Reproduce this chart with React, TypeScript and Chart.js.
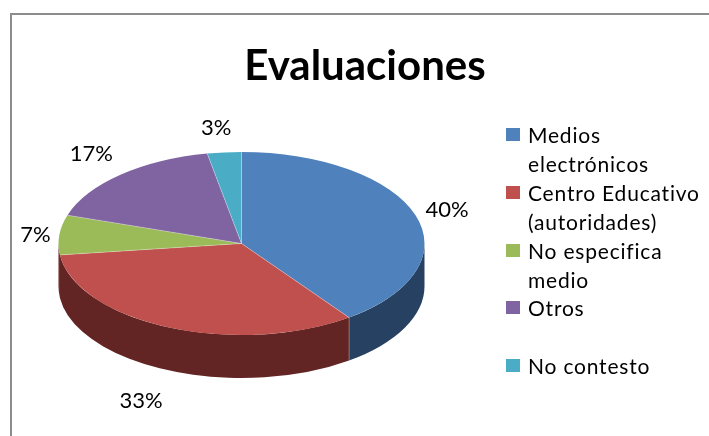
import React, { useEffect, useRef } from "react";
import { Chart, registerables } from "chart.js";

Chart.register(...registerables);

const titleText = "Evaluaciones";
const categories = ["Medios electrónicos", "Centro Educativo (autoridades)", "No especifica medio", "Otros", "No contesto"];
const legendLines = [["Medios", "electrónicos"], ["Centro Educativo", "(autoridades)"], ["No especifica", "medio"], ["Otros", ""], ["No contesto"]];
const values = [40, 33, 7, 17, 3];
const topColors = ["#4F81BD", "#C0504D", "#9BBB59", "#8064A2", "#4BACC6"];
const sideColors = ["#264162", "#632523", "#632523", "#403152", "#215968"];

const FONT = "Lato, Carlito, sans-serif";
const CX = 241.5, CY = 243.5, RX = 183, SQUASH = 0.5, DEPTH = 43;

const pie3d = {
  id: "pie3d",
  beforeDatasetsDraw(chart: any) {
    const ctx = chart.ctx;
    const arcs = chart.getDatasetMeta(0).data;
    const { x, y } = arcs[0].getProps(["x", "y"], true);
    arcs.forEach((arc: any, i: number) => {
      const p = arc.getProps(["startAngle", "endAngle", "outerRadius"], true);
      const a = Math.max(p.startAngle, 0);
      const b = Math.min(p.endAngle, Math.PI);
      if (a >= b) return;
      const ry = p.outerRadius * SQUASH;
      ctx.beginPath();
      ctx.ellipse(CX, CY, p.outerRadius, ry, 0, a, b);
      ctx.ellipse(CX, CY + DEPTH, p.outerRadius, ry, 0, b, a, true);
      ctx.closePath();
      ctx.fillStyle = sideColors[i];
      ctx.fill();
    });
    ctx.save();
    ctx.translate(CX, CY);
    ctx.scale(1, SQUASH);
    ctx.translate(-x, -y);
  },
  afterDatasetsDraw(chart: any) {
    const ctx = chart.ctx;
    ctx.restore();
    const arcs = chart.getDatasetMeta(0).data;
    // seams between slices
    ctx.save();
    ctx.strokeStyle = "rgba(255,255,255,0.3)";
    ctx.lineWidth = 1;
    arcs.forEach((arc: any) => {
      const p = arc.getProps(["startAngle", "outerRadius"], true);
      const ex = CX + p.outerRadius * Math.cos(p.startAngle);
      const ey = CY + p.outerRadius * SQUASH * Math.sin(p.startAngle);
      ctx.beginPath();
      ctx.moveTo(CX, CY);
      ctx.lineTo(ex, ey);
      if (Math.sin(p.startAngle) > 0.5) ctx.lineTo(ex, ey + DEPTH);
      ctx.stroke();
    });
    ctx.restore();
    // percentage labels outside the slices
    const nudges = [[1, 2], [-15, 7], [8, 2], [-8, -2], [-5, 0]];
    ctx.save();
    ctx.font = `22px ${FONT}`;
    ctx.fillStyle = "#000";
    ctx.textAlign = "center";
    ctx.textBaseline = "middle";
    arcs.forEach((arc: any, i: number) => {
      const p = arc.getProps(["startAngle", "endAngle", "outerRadius"], true);
      const mid = (p.startAngle + p.endAngle) / 2;
      const lx = CX + (p.outerRadius + 32) * Math.cos(mid);
      const sinm = Math.sin(mid);
      const ly = CY + (p.outerRadius * SQUASH + 25) * sinm + (sinm > 0 ? DEPTH : 0);
      ctx.fillText(values[i] + "%", lx + nudges[i][0], ly + nudges[i][1]);
    });
    ctx.restore();
    // legend
    ctx.save();
    ctx.font = `21px ${FONT}`;
    ctx.textAlign = "left";
    ctx.textBaseline = "alphabetic";
    if ("letterSpacing" in ctx) (ctx as any).letterSpacing = "0.8px";
    let row = 0;
    const top = 143, step = 28.9;
    legendLines.forEach((lines, i) => {
      ctx.fillStyle = topColors[i];
      ctx.fillRect(506, Math.round(top + row * step - 15), 14, 13);
      ctx.fillStyle = "#000";
      lines.forEach((line) => {
        if (line) ctx.fillText(line, 528, top + row * step);
        row++;
      });
    });
    ctx.restore();
  },
};

export default function App() {
  const ref = useRef<HTMLCanvasElement>(null);
  useEffect(() => {
    const chart = new Chart(ref.current!, {
      type: "pie",
      data: {
        labels: categories,
        datasets: [{ data: values, backgroundColor: topColors, borderWidth: 0, radius: RX, clip: false } as any],
      },
      plugins: [pie3d],
      options: {
        animation: false,
        responsive: false,
        layout: { padding: { left: 21 } },
        plugins: {
          legend: { display: false },
          tooltip: { enabled: false },
          title: {
            display: true,
            text: titleText,
            color: "#000",
            font: { family: FONT, size: 42, weight: "bold" },
            padding: { top: 41, bottom: 10 },
          },
        },
      },
    });
    return () => chart.destroy();
  }, []);
  return (
    <div style={{ position: "fixed", left: 0, top: 0, width: 709, height: 436, overflow: "hidden", background: "#fff" }}>
      <div style={{ position: "absolute", left: 10, top: 13, width: 900, height: 700, border: "2px solid #8c8c8c" }} />
      <canvas ref={ref} width={709} height={436} style={{ position: "absolute", left: 0, top: 0, display: "block" }} />
    </div>
  );
}
